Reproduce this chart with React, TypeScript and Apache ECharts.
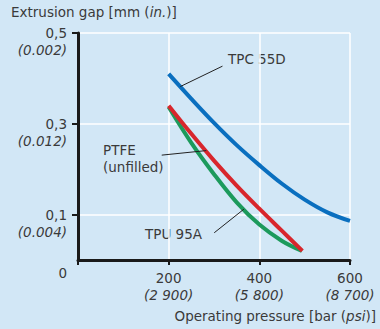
import React, { useEffect, useRef } from "react";
import * as echarts from "echarts";

// pressure (bar) and extrusion gap (mm)
const tpcPressure = [200, 250, 300, 350, 400, 450, 500, 550, 600];
const tpc55d = [0.41, 0.355, 0.302, 0.253, 0.209, 0.168, 0.133, 0.105, 0.086];
const ptfePressure = [200, 250, 300, 350, 400, 450, 495];
const ptfe = [0.34, 0.278, 0.219, 0.164, 0.113, 0.064, 0.02];
const tpuPressure = [200, 250, 300, 350, 400, 450, 494];
const tpu95a = [0.337, 0.258, 0.189, 0.127, 0.078, 0.042, 0.02];

const yTickValues = [0.1, 0.3, 0.5];
const yTickMm = ["0,1", "0,3", "0,5"];
const yTickIn = ["(0.004)", "(0.012)", "(0.002)"];
const xTickValues = [200, 400, 600];
const xTickBar = ["200", "400", "600"];
const xTickPsi = ["(2 900)", "(5 800)", "(8 700)"];

const FONT = "DejaVu Sans";
const FS = 13.5;
const TXT = "#3a3a3a";

export default function App() {
  const ref = useRef<HTMLDivElement>(null);
  useEffect(() => {
    if (!ref.current) return;
    const chart = echarts.init(ref.current, null, { renderer: "svg" });
    const pair = (xs: number[], ys: number[]) => xs.map((x, i) => [x, ys[i]]);
    const leader = (a: number[], b: number[]) => ({
      symbol: "none",
      silent: true,
      label: { show: false },
      lineStyle: { color: "#222", width: 1, type: "solid" },
      data: [[{ coord: a }, { coord: b }]],
    });
    const norm = { fontFamily: FONT, fontSize: FS, color: TXT, lineHeight: 17 };
    const ital = { ...norm, fontStyle: "italic" };
    chart.setOption({
      animation: false,
      backgroundColor: "#d2e7f6",
      textStyle: { fontFamily: FONT },
      grid: { left: 78, top: 33, right: 30, bottom: 69 },
      xAxis: {
        type: "value",
        min: 0,
        max: 600,
        interval: 100,
        axisLine: { lineStyle: { color: "#1a1a1a", width: 3 } },
        axisTick: {
          show: true,
          customValues: [0, 200, 400, 600],
          length: 5,
          lineStyle: { color: "#1a1a1a", width: 2 },
        },
        splitLine: { show: true, lineStyle: { color: "#ffffff", width: 1.5 } },
        axisLabel: {
          customValues: xTickValues,
          margin: 9,
          formatter: (v: number) => {
            const i = xTickValues.indexOf(v);
            return i < 0 ? "" : `{a|${xTickBar[i]}}\n{b|${xTickPsi[i]}}`;
          },
          rich: { a: norm, b: ital },
        },
      },
      yAxis: {
        type: "value",
        min: 0,
        max: 0.5,
        interval: 0.1,
        axisLine: { show: true, lineStyle: { color: "#1a1a1a", width: 3 } },
        axisTick: {
          show: true,
          customValues: yTickValues,
          length: 6,
          lineStyle: { color: "#1a1a1a", width: 2 },
        },
        splitLine: { show: true, lineStyle: { color: "#ffffff", width: 1.5 } },
        axisLabel: {
          customValues: [0, ...yTickValues],
          margin: 11,
          formatter: (v: number) => {
            if (v === 0) return "{z|0}";
            const i = yTickValues.findIndex((t) => Math.abs(t - v) < 1e-9);
            return i < 0 ? "" : `{d| }\n{a|${yTickMm[i]}}\n{b|${yTickIn[i]}}`;
          },
          rich: {
            d: { fontSize: FS, lineHeight: 17 },
            a: { ...norm, align: "right" },
            b: { ...ital, align: "right" },
            z: { ...norm, padding: [25, 0, 0, 0] },
          },
        },
      },
      series: [
        {
          name: "TPU 95A",
          type: "line",
          data: pair(tpuPressure, tpu95a),
          smooth: 0.35,
          showSymbol: false,
          lineStyle: { color: "#1c9a5c", width: 4 },
          markLine: leader([300.5, 0.06], [366, 0.112]),
        },
        {
          name: "PTFE (unfilled)",
          type: "line",
          data: pair(ptfePressure, ptfe),
          smooth: 0.35,
          showSymbol: false,
          lineStyle: { color: "#d8262c", width: 4 },
          markLine: leader([184.7, 0.231], [283, 0.241]),
        },
        {
          name: "TPC 55D",
          type: "line",
          data: pair(tpcPressure, tpc55d),
          smooth: 0.35,
          showSymbol: false,
          lineStyle: { color: "#0a6fbf", width: 4 },
          markLine: leader([318.7, 0.427], [225.6, 0.382]),
        },
      ],
      graphic: [
        {
          type: "text",
          left: 11,
          top: 5,
          style: {
            text: "{n|Extrusion gap [mm (}{i|in.}{n|)]}",
            rich: {
              n: { fontFamily: FONT, fontSize: FS, fill: TXT },
              i: { fontFamily: FONT, fontSize: FS, fill: TXT, fontStyle: "italic" },
            },
          },
        },
        {
          type: "text",
          right: 4,
          top: 309,
          style: {
            text: "{n|Operating pressure [bar (}{i|psi}{n|)]}",
            rich: {
              n: { fontFamily: FONT, fontSize: FS, fill: TXT },
              i: { fontFamily: FONT, fontSize: FS, fill: TXT, fontStyle: "italic" },
            },
          },
        },
        {
          type: "text",
          left: 228,
          top: 52,
          style: { text: "TPC 55D", fontFamily: FONT, fontSize: FS, fill: TXT },
        },
        {
          type: "text",
          left: 103,
          top: 141,
          style: { text: "PTFE\n(unfilled)", fontFamily: FONT, fontSize: FS, lineHeight: 17, fill: TXT },
        },
        {
          type: "text",
          left: 145,
          top: 227,
          style: { text: "TPU 95A", fontFamily: FONT, fontSize: FS, fill: TXT },
        },
      ],
    });
    return () => chart.dispose();
  }, []);
  return (
    <div
      ref={ref}
      style={{ position: "fixed", left: 0, top: 0, width: 380, height: 329 }}
    />
  );
}
